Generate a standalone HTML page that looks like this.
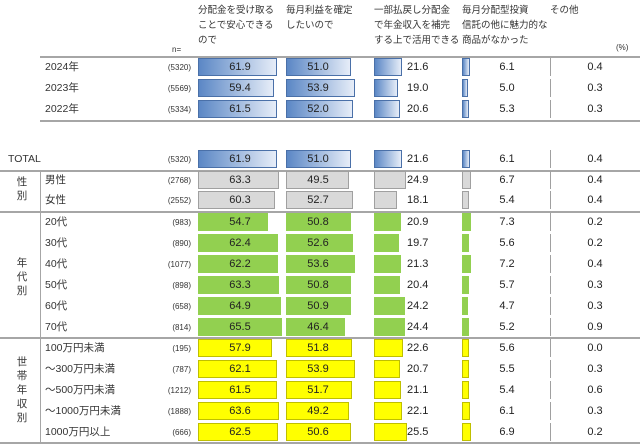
<!DOCTYPE html>
<html><head><meta charset="utf-8"><style>
body{margin:0;width:640px;height:445px;background:#fff;overflow:hidden;font-family:"Liberation Sans","Noto Sans CJK JP",sans-serif;color:#333;}
#c{position:absolute;left:0;top:0;width:640px;height:445px;}
.t{position:absolute;font-size:10.5px;line-height:12px;white-space:nowrap;}
.v{font-size:11px;color:#222;}
.h{position:absolute;font-size:9.5px;line-height:15px;white-space:nowrap;color:#333;}
.ln{position:absolute;background:#a6a6a6;}
.bar{position:absolute;box-sizing:border-box;}
</style></head><body>
<div id="c"></div>
<script>
const rowLabels=["2024年","2023年","2022年","TOTAL","男性","女性","20代","30代","40代","50代","60代","70代","100万円未満","～300万円未満","～500万円未満","～1000万円未満","1000万円以上"];
const nValues=["(5320)","(5569)","(5334)","(5320)","(2768)","(2552)","(983)","(890)","(1077)","(898)","(658)","(814)","(195)","(787)","(1212)","(1888)","(666)"];
const rowGroups=["blue","blue","blue","blue","gray","gray","green","green","green","green","green","green","yellow","yellow","yellow","yellow","yellow"];
const s1=[61.9,59.4,61.5,61.9,63.3,60.3,54.7,62.4,62.2,63.3,64.9,65.5,57.9,62.1,61.5,63.6,62.5];
const s2=[51.0,53.9,52.0,51.0,49.5,52.7,50.8,52.6,53.6,50.8,50.9,46.4,51.8,53.9,51.7,49.2,50.6];
const s3=[21.6,19.0,20.6,21.6,24.9,18.1,20.9,19.7,21.3,20.4,24.2,24.4,22.6,20.7,21.1,22.1,25.5];
const s4=[6.1,5.0,5.3,6.1,6.7,5.4,7.3,5.6,7.2,5.7,4.7,5.2,5.6,5.5,5.4,6.1,6.9];
const s5=[0.4,0.3,0.3,0.4,0.4,0.4,0.2,0.2,0.4,0.3,0.3,0.9,0.0,0.3,0.6,0.3,0.2];
const seriesHeaders=[["分配金を受け取る","ことで安心できる","ので"],["毎月利益を確定","したいので"],["一部払戻し分配金","で年金収入を補完","する上で活用できる"],["毎月分配型投資","信託の他に魅力的な","商品がなかった"],["その他"]];
const series=[s1,s2,s3,s4,s5];
const rowY=[67,88,109,159,180,200,222,243,264,285,306,327,348,369,390,411,432];
const colX=[198,286,374,462,550];
const scale=1.28;
const x=v=>v*scale;
const C=document.getElementById('c');
function el(cls,css,txt){const d=document.createElement('div');d.className=cls;Object.assign(d.style,css);if(txt!==undefined)d.textContent=txt;C.appendChild(d);return d;}
const fills={blue:["linear-gradient(to right,#5b87c5,#e6edf8)","1px solid #4a70a8"],gray:["#d9d9d9","1px solid #a0a0a0"],green:["#92d050","1px solid #92d050"],yellow:["#ffff00","1px solid #bfbf00"]};
seriesHeaders.forEach((h,i)=>{const d=el('h',{left:colX[i]+'px',top:'3px'});d.innerHTML=h.join('<br>');

});
let d=el('t',{left:'172px',top:'44px',fontSize:'8px'},'n=');


d=el('t',{left:'616px',top:'42px',fontSize:'8px'},'(%)');


[[40,56,600],[40,120,600],[0,170,640],[0,211,640],[0,337,640],[0,442,640]].forEach(([l,t,w])=>{const d=el('ln',{left:l+'px',top:t+'px',width:w+'px',height:'2px'});

});
d=el('ln',{left:'40px',top:'170px',width:'1px',height:'273px'});


[["性<br>別",175],["年<br>代<br>別",256],["世<br>帯<br>年<br>収<br>別",355]].forEach(([t,top],i)=>{const d=el('t',{left:'16px',top:top+'px',lineHeight:'14px',width:'12px',textAlign:'center'});d.innerHTML=t;

});
rowLabels.forEach((lab,r)=>{const y=rowY[r];
const lx=r===3?8:45;
let d=el('t',{left:lx+'px',top:(y-6)+'px'},lab);


d=el('t',{left:'150px',width:'41px',textAlign:'right',top:(y-5)+'px',fontSize:'8px'},nValues[r]);


const f=fills[rowGroups[r]];
series.forEach((s,i)=>{const v=s[r];const w=Math.max(x(v),1);
const b=el('bar',{left:colX[i]+'px',top:(y-9)+'px',width:w+'px',height:'18px',background:w>2?f[0]:'#a0a0a0',border:w>2?f[1]:'none'});


let css={top:(y-6)+'px'};
if(i===2){css.left=(colX[i]+33)+'px';}else{const cx=[240,318,0,507,595][i];css.left=(cx-20)+'px';css.width='40px';css.textAlign='center';}
const t=el('t v',css,v.toFixed(1));

});
});
</script>
</body></html>
